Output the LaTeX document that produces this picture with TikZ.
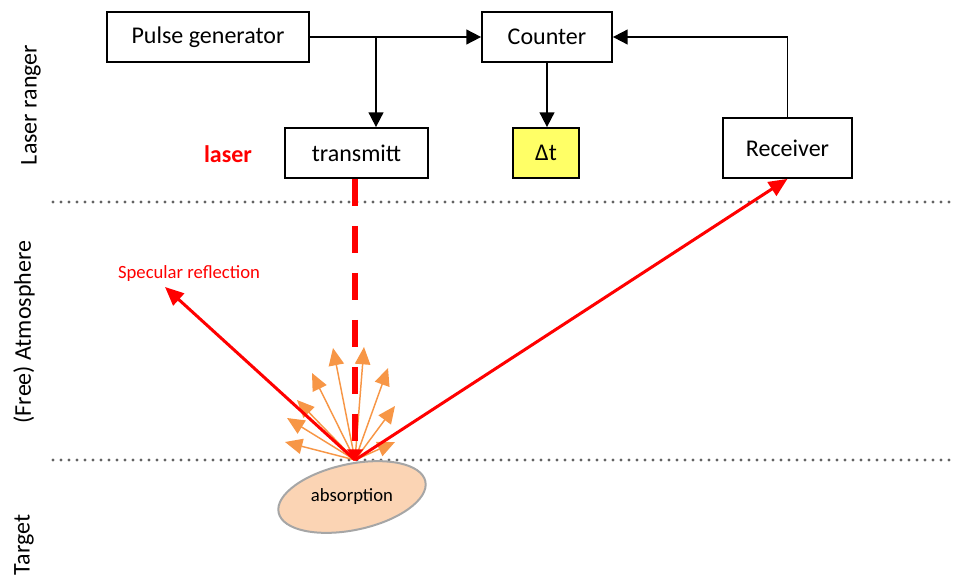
\documentclass[tikz,border=0pt]{standalone}
\usepackage{fontspec}
\setmainfont{Carlito}
\usetikzlibrary{arrows.meta,shapes.geometric}

\definecolor{laserred}{HTML}{FF0000}
\definecolor{scatterorange}{HTML}{F79646}
\definecolor{peach}{HTML}{FBD4B4}
\definecolor{dtyellow}{HTML}{FFFF66}
\definecolor{dotgray}{HTML}{636363}

\tikzset{
	block/.style={draw, line width=1.3pt, minimum height=37.5pt, inner sep=0pt,
		font=\fontsize{18}{21}\selectfont},
	zone/.style={rotate=90, font=\fontsize{18}{21}\selectfont},
	layer/.style={dotgray, line width=2.3pt, line cap=round, dash pattern=on 0pt off 6pt},
	beam/.style={laserred, line width=2.25pt, -{Triangle[length=14pt,width=12pt]}},
	pulsebeam/.style={laserred, line width=4.5pt, dash pattern=on 20.25pt off 15pt,
		-{Triangle[length=8pt,width=12pt]}},
	diffuse/.style={scatterorange, line width=1.1pt, -{Triangle[length=13pt,width=11.5pt]}},
	absorber/.style={ellipse, draw=black!35, fill=peach, line width=1.5pt,
		minimum width=112.5pt, minimum height=49.5pt}
}

\begin{document}
\begin{tikzpicture}[x=0.75pt, y=-0.75pt, >={Triangle[length=11pt,width=11pt]}]
	\useasboundingbox (0,0) rectangle (953,578);

	% Zones
	\node [zone] (ranger) at (31,105)  {Laser ranger};
	\node [zone] (atmos)  at (24,332)  {(Free) Atmosphere};
	\node [zone] (tgt)    at (24,545)  {Target};
	\draw [layer] (53,202) -- (953,202);
	\draw [layer] (53,460) -- (953,460);

	% Nodes {pulse, counter, transmitt, dt, receiver}
	\node [block, minimum width=151.5pt]				(pulse)     at (208,37)    {Pulse generator};
	\node [block, minimum width=97.5pt]					(counter)   at (547,37)    {Counter};
	\node [block, minimum width=107.25pt]				(transmitt) at (356.5,153) {transmitt};
	\node [block, minimum width=49.5pt, fill=dtyellow]	(dt)        at (546,153)   {Δt};
	\node [block, minimum width=96.75pt, minimum height=45pt] (receiver) at (787.5,148) {Receiver};
	\node [laserred, font=\fontsize{18}{21}\selectfont\bfseries] (laser) at (228,154) {laser};

	% Target
	\node [absorber, rotate=12] (target) at (352,497) {};
	\node [font=\fontsize{14}{17}\selectfont] (absorb) at (target.center) {absorption};

	% Paths
	\coordinate (split) at (376,37);
	\draw [->, line width=1.3pt] (pulse) -- (counter);
	\draw [->, line width=1.3pt] (split) -- (split |- transmitt.north);
	\draw [->, line width=1.3pt] (counter.south) -- (counter.south |- dt.north);
	\draw [->, line width=1.3pt] (receiver.north) |- (counter.east);

	% Laser and reflections
	\coordinate (hit)  at (355,460);
	\coordinate (spec) at (165,287);
	\node [laserred, font=\fontsize{14}{16}\selectfont] (speclabel) at (189,274) {Specular reflection};

	\foreach \i/\sx/\sy in {1/285/442, 2/287/418, 3/297/400, 4/312/373, 5/333/348,
		6/364/347, 7/388/368, 8/395/406, 9/395/442}
	{
		\coordinate (s\i) at (\sx,\sy);
		\draw [diffuse] (hit) -- (s\i);
	}

	\draw [pulsebeam] (transmitt.south -| hit) -- (hit);
	\draw [beam] (hit) -- (spec);
	\draw [beam] (hit) -- (receiver.south);
\end{tikzpicture}
\end{document}
